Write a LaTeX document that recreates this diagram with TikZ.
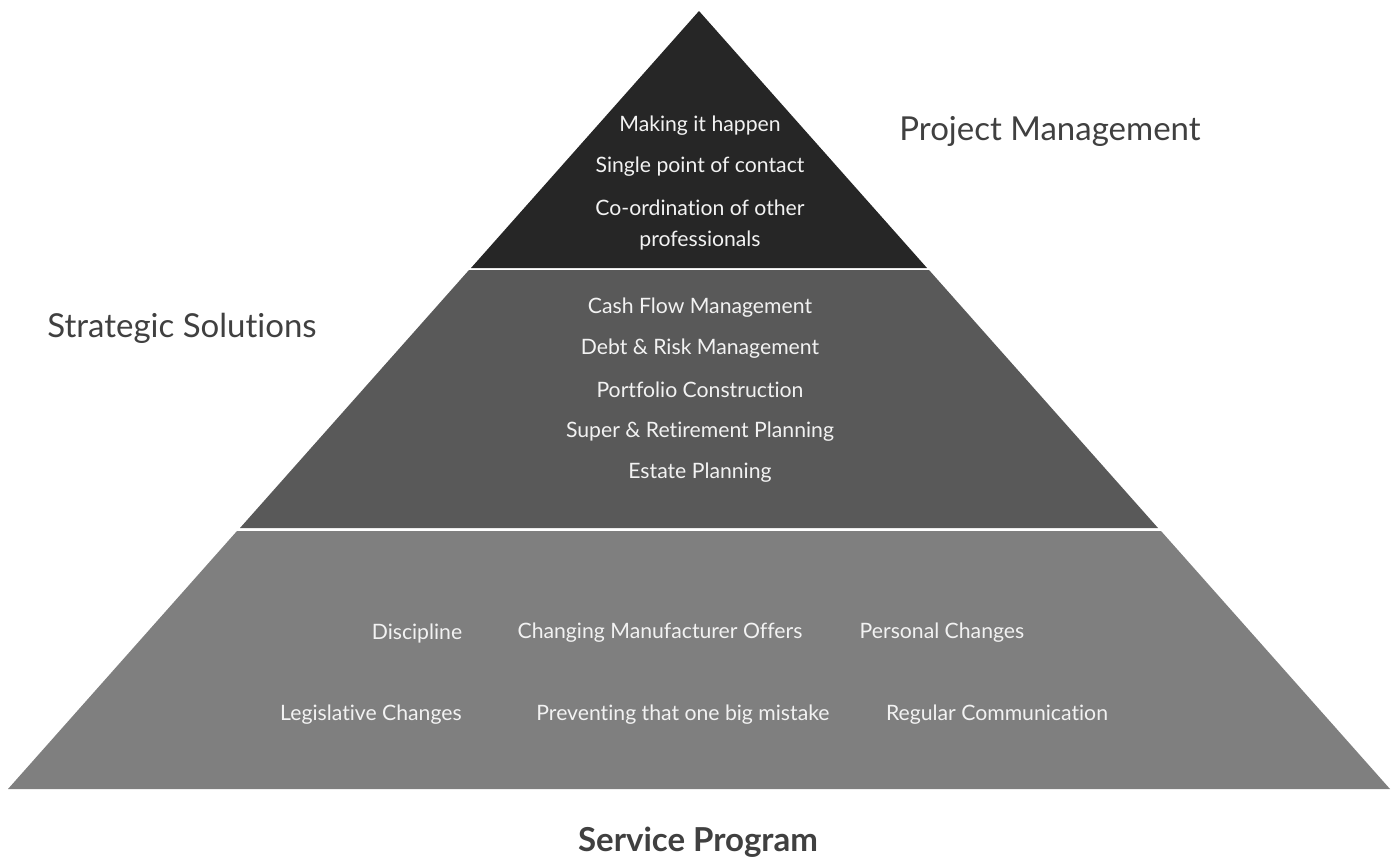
\documentclass[tikz,border=0pt]{standalone}
\usepackage{fontspec}
\setmainfont{Lato}[Ligatures={NoCommon,NoDiscretionary}]
\definecolor{tierA}{HTML}{262626}
\definecolor{tierB}{HTML}{595959}
\definecolor{tierC}{HTML}{7F7F7F}
\definecolor{txtin}{HTML}{F2F2F2}
\definecolor{lbl}{HTML}{404040}
\begin{document}
\begin{tikzpicture}[x=1pt,y=-1pt,
  item/.style={text=txtin,font=\fontsize{21.2}{24}\selectfont,inner sep=0pt,anchor=center},
  tierlabel/.style={text=lbl,font=\fontsize{33}{36}\selectfont,inner sep=0pt,anchor=center}]
\useasboundingbox (0,0) rectangle (1394,857);
% tiers
\fill[tierA] (699,11) -- (927,268) -- (471,268) -- cycle;
\fill[tierB] (469,270) -- (929,270) -- (1158,528) -- (240,528) -- cycle;
\fill[tierC] (237,531) -- (1161,531) -- (1390,789) -- (8,789) -- cycle;
% top
\node[item] (t1) at (700,126) {Making it happen};
\node[item] (t2) at (700,167) {Single point of contact};
\node[item] (t3) at (700,208) {Co-ordination of other};
\node[item] (t4) at (700,241) {professionals};
% middle
\node[item] (m1) at (700,308) {Cash Flow Management};
\node[item] (m2) at (700,349) {Debt \& Risk Management};
\node[item] (m3) at (700,390) {Portfolio Construction};
\node[item] (m4) at (700,432) {Super \& Retirement Planning};
\node[item] (m5) at (700,473) {Estate Planning};
% bottom
\node[item] (b1) at (417,633) {Discipline};
\node[item] (b2) at (660,633) {Changing Manufacturer Offers};
\node[item] (b3) at (942,633) {Personal Changes};
\node[item] (b4) at (371,715) {Legislative Changes};
\node[item] (b5) at (683,715) {Preventing that one big mistake};
\node[item] (b6) at (997,715) {Regular Communication};
% labels
\node[tierlabel] (lp) at (1050,131) {Project Management};
\node[tierlabel] (ls) at (182,328) {Strategic Solutions};
\node[tierlabel,font=\fontsize{33}{36}\selectfont\bfseries] (lsp) at (698,842) {Service Program};
\end{tikzpicture}
\end{document}
